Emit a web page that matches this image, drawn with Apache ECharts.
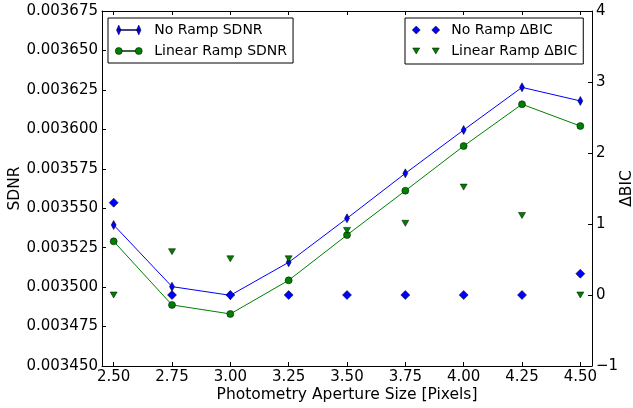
<!DOCTYPE html>
<html>
<head>
<meta charset="utf-8">
<script src="https://cdn.jsdelivr.net/npm/echarts@6/dist/echarts.min.js"></script>
<style>
html,body{margin:0;padding:0;background:#fff;}
#chart{width:633px;height:408px;}
</style>
</head>
<body>
<div id="chart"></div>
<script>
// ---- data ----
var apertures = [2.5, 2.75, 3.0, 3.25, 3.5, 3.75, 4.0, 4.25, 4.5];
var noRampSDNR = [0.0035394, 0.0035003, 0.0034948, 0.0035157, 0.0035436, 0.0035721, 0.0035996, 0.0036266, 0.0036180];
var linRampSDNR = [0.0035290, 0.0034887, 0.0034830, 0.0035043, 0.0035330, 0.0035611, 0.0035894, 0.0036159, 0.0036021];
var noRampBIC = [1.30, 0, 0, 0, 0, 0, 0, 0, 0.30];
var linRampBIC = [0.0, 0.61, 0.51, 0.51, 0.91, 1.01, 1.52, 1.12, 0.0];
var xTicks = [2.5, 2.75, 3.0, 3.25, 3.5, 3.75, 4.0, 4.25, 4.5];
var sdnrTicks = [0.00345, 0.003475, 0.0035, 0.003525, 0.00355, 0.003575, 0.0036, 0.003625, 0.00365, 0.003675];
var bicTicks = [-1, 0, 1, 2, 3, 4];

function pairs(xs, ys) { return xs.map(function (x, i) { return [x, ys[i]]; }); }

var FONT = 'DejaVu Sans';
var BLUE = '#0000ff', GREEN = '#008000';

var chart = echarts.init(document.getElementById('chart'), null, {renderer: 'canvas'});

var iconThinDiamond = 'path://M0 5 M3.5 0 L5.75 5 L3.5 10 L1.25 5 Z M3.5 4.55 L23.5 4.55 L23.5 5.45 L3.5 5.45 Z M23.5 0 L25.75 5 L23.5 10 L21.25 5 Z M34 5';
var iconCircles = 'path://M0 5 A3.5 3.5 0 1 0 7 5 A3.5 3.5 0 1 0 0 5 Z M7 4.55 L20 4.55 L20 5.45 L7 5.45 Z M20 5 A3.5 3.5 0 1 0 27 5 A3.5 3.5 0 1 0 20 5 Z M34 5 M0 0 M0 10';
var iconDiamonds = 'path://M4 0 L8 4 L4 8 L0 4 Z M23.5 0 L27.5 4 L23.5 8 L19.5 4 Z M34 4';
var iconTriangles = 'path://M0 0 M0.5 1 L7.5 1 L4 7 Z M20 1 L27 1 L23.5 7 Z M34 8';

function axisLine() { return {show: true, onZero: false, lineStyle: {color: '#000', width: 1}}; }
var labelStyle = {color: '#000', fontFamily: FONT, fontSize: 15};
var legendText = {color: '#000', fontFamily: FONT, fontSize: 14, lineHeight: 16};

var option = {
  animation: false,
  backgroundColor: '#fff',
  grid: {left: 102, right: 41, top: 11, bottom: 42, containLabel: false, outerBoundsMode: 'none'},
  legend: [
    {
      left: 108, top: 18, orient: 'vertical',
      padding: [4, 6, 4, 7],
      itemGap: 5, itemWidth: 34, itemHeight: 10,
      borderColor: '#000', borderWidth: 1, backgroundColor: '#fff',
      textStyle: legendText,
      selectedMode: false,
      data: [
        {name: 'No Ramp SDNR', icon: iconThinDiamond, itemStyle: {borderColor: '#000', borderWidth: 0.5}},
        {name: 'Linear Ramp SDNR', icon: iconCircles, itemStyle: {borderColor: '#000', borderWidth: 0.5}}
      ]
    },
    {
      left: 405, top: 18, orient: 'vertical',
      padding: [4, 6, 5, 7],
      itemGap: 5, itemWidth: 34, itemHeight: 8,
      borderColor: '#000', borderWidth: 1, backgroundColor: '#fff',
      textStyle: legendText,
      selectedMode: false,
      data: [
        {name: 'No Ramp \u0394BIC', icon: iconDiamonds, itemStyle: {borderColor: '#000', borderWidth: 0.5}},
        {name: 'Linear Ramp \u0394BIC', icon: iconTriangles, itemStyle: {borderColor: '#000', borderWidth: 0.5}}
      ]
    }
  ],
  xAxis: [
    {
      type: 'value', position: 'bottom', min: 2.45, max: 4.55,
      name: 'Photometry Aperture Size [Pixels]', nameLocation: 'middle', nameGap: 21, nameMoveOverlap: false,
      nameTextStyle: {color: '#000', fontFamily: FONT, fontSize: 15.5},
      axisLine: axisLine(),
      axisTick: {show: true, inside: true, length: 4, customValues: xTicks, lineStyle: {color: '#000'}},
      axisLabel: Object.assign({margin: 4, customValues: xTicks, formatter: function (v) { return v.toFixed(2); }}, labelStyle),
      splitLine: {show: false}
    },
    {
      type: 'value', position: 'top', min: 2.45, max: 4.55,
      axisLine: axisLine(),
      axisTick: {show: true, inside: true, length: 4, customValues: xTicks, lineStyle: {color: '#000'}},
      axisLabel: {show: false},
      splitLine: {show: false}
    }
  ],
  yAxis: [
    {
      type: 'value', position: 'left', min: 0.00345, max: 0.003675,
      name: 'SDNR', nameLocation: 'middle', nameGap: 79, nameRotate: 90, nameMoveOverlap: false,
      nameTextStyle: {color: '#000', fontFamily: FONT, fontSize: 15.5},
      axisLine: axisLine(),
      axisTick: {show: true, inside: true, length: 4, customValues: sdnrTicks, lineStyle: {color: '#000'}},
      axisLabel: Object.assign({margin: 4, customValues: sdnrTicks, formatter: function (v) { return v.toFixed(6); }}, labelStyle),
      splitLine: {show: false}
    },
    {
      type: 'value', position: 'right', min: -1, max: 4,
      name: '\u0394BIC', nameLocation: 'middle', nameGap: 27, nameRotate: 90, nameMoveOverlap: false,
      nameTextStyle: {color: '#000', fontFamily: FONT, fontSize: 15.5},
      axisLine: axisLine(),
      axisTick: {show: true, inside: true, length: 4, customValues: bicTicks, lineStyle: {color: '#000'}},
      axisLabel: Object.assign({margin: 4, customValues: bicTicks, formatter: function (v) { return v < 0 ? '\u2212' + Math.abs(v) : String(v); }}, labelStyle),
      splitLine: {show: false}
    }
  ],
  series: [
    {
      name: 'No Ramp SDNR', type: 'line', xAxisIndex: 0, yAxisIndex: 0,
      data: pairs(apertures, noRampSDNR),
      symbol: 'diamond', symbolSize: [5, 9], showAllSymbol: true,
      lineStyle: {color: BLUE, width: 1},
      itemStyle: {color: BLUE, borderColor: '#000', borderWidth: 0.5},
      z: 2
    },
    {
      name: 'Linear Ramp SDNR', type: 'line', xAxisIndex: 0, yAxisIndex: 0,
      data: pairs(apertures, linRampSDNR),
      symbol: 'circle', symbolSize: 7, showAllSymbol: true,
      lineStyle: {color: GREEN, width: 1},
      itemStyle: {color: GREEN, borderColor: '#000', borderWidth: 0.5},
      z: 3
    },
    {
      name: 'No Ramp \u0394BIC', type: 'scatter', xAxisIndex: 0, yAxisIndex: 1,
      data: pairs(apertures, noRampBIC),
      symbol: 'diamond', symbolSize: 9,
      itemStyle: {color: BLUE, borderColor: '#000', borderWidth: 0.5, opacity: 1},
      z: 4
    },
    {
      name: 'Linear Ramp \u0394BIC', type: 'scatter', xAxisIndex: 0, yAxisIndex: 1,
      data: pairs(apertures, linRampBIC),
      symbol: 'triangle', symbolRotate: 180, symbolSize: [7, 6],
      itemStyle: {color: GREEN, borderColor: '#000', borderWidth: 0.5, opacity: 1},
      z: 5
    }
  ]
};
chart.setOption(option);
</script>
</body>
</html>
